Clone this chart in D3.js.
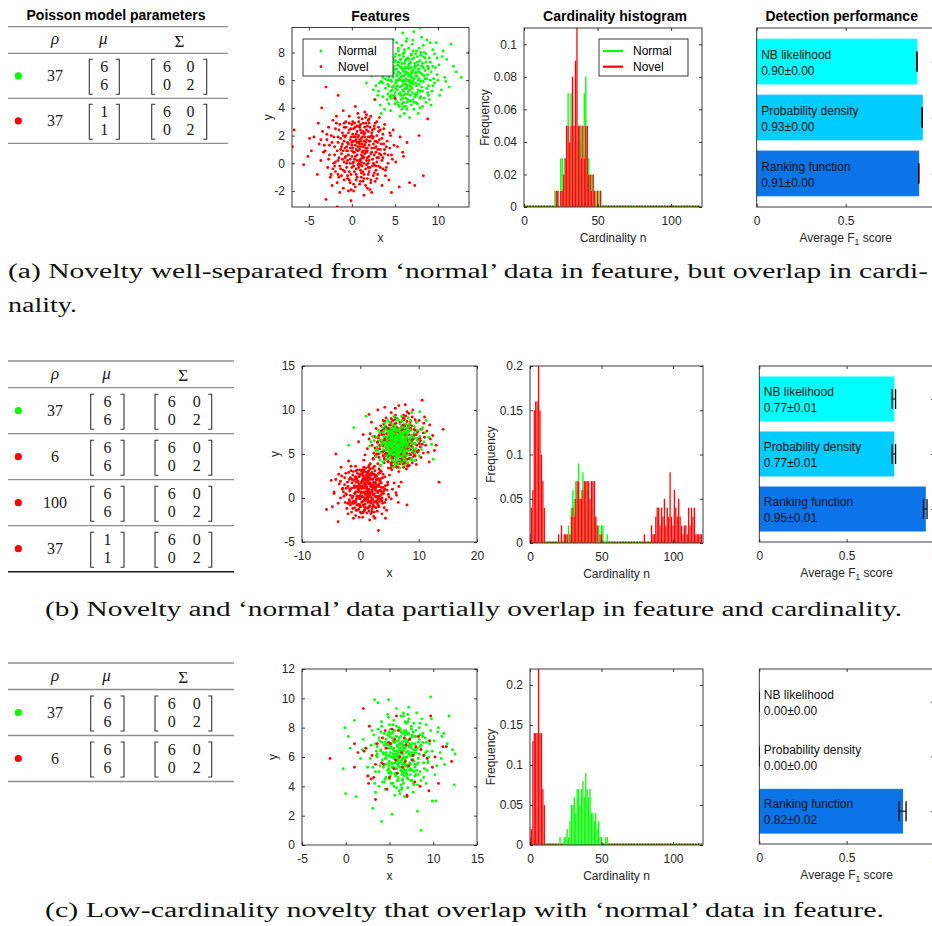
<!DOCTYPE html>
<html>
<head>
<meta charset="utf-8">
<script src="https://cdn.jsdelivr.net/npm/d3@7"></script>
<style>
  html, body { margin: 0; padding: 0; background: #fff; }
  svg { display: block; }
</style>
</head>
<body>
<svg id="fig" width="932" height="926"></svg>
<script>
// ---------------------------------------------------------------------------
// Poisson model parameters (rho = Poisson rate, mu = Gaussian mean, Sigma = covariance)
// ---------------------------------------------------------------------------
const classA = ["Normal", "Novel"];
const rhoA = [37, 37];
const muA = [[6, 6], [1, 1]];

const classB = ["Normal", "Novel", "Novel", "Novel"];
const rhoB = [37, 6, 100, 37];
const muB = [[6, 6], [6, 6], [6, 6], [1, 1]];

const classC = ["Normal", "Novel"];
const rhoC = [37, 6];
const muC = [[6, 6], [6, 6]];

const sigmaAll = [[6, 0], [0, 2]];

// ---------------------------------------------------------------------------
// Feature samples, flat lists of x,y pairs
// ---------------------------------------------------------------------------
const featA_normal = [
6.2,6.4, 5.1,5.8, 7.3,6.9, 4.6,7.2, 8.1,5.5, 6.8,4.9, 3.9,6.1, 5.5,7.8, 7.9,7.4, 6.0,5.2,
9.2,6.6, 4.2,5.0, 6.6,8.3, 5.8,6.9, 7.1,5.9, 3.2,7.0, 8.6,7.9, 5.3,4.4, 6.9,6.2, 10.1,7.1,
4.9,6.5, 7.6,4.3, 2.8,5.6, 6.3,7.5, 8.8,5.1, 5.6,5.5, 7.0,8.6, 4.4,8.1, 9.6,5.8, 6.1,3.6,
3.6,4.8, 7.8,6.1, 5.0,7.3, 6.7,5.6, 8.3,8.5, 4.1,6.8, 9.9,7.6, 5.9,4.7, 7.4,7.0, 2.3,6.3,
6.5,6.0, 8.0,4.8, 5.2,8.7, 10.8,6.2, 4.7,5.3, 7.2,3.9, 6.4,9.0, 3.4,5.9, 8.9,6.8, 5.7,6.2,
11.5,8.6, 6.0,7.7, 4.3,4.3, 7.7,5.3, 9.4,8.2, 5.4,6.6, 6.9,4.2, 3.0,7.6, 8.4,6.3, 6.2,5.0,
12.1,6.6, 5.0,5.1, 7.5,8.1, 4.0,7.5, 9.0,4.6, 6.6,6.8, 3.8,3.9, 8.2,7.2, 5.6,3.4, 7.0,6.5,
13.6,8.0, 4.5,6.0, 6.8,7.3, 10.4,5.3, 5.3,7.1, 7.9,4.0, 2.6,4.6, 6.3,8.8, 9.7,6.9, 5.8,5.6,
1.7,5.8, 7.3,5.0, 4.8,8.9, 8.7,8.9, 6.1,6.6, 3.5,6.5, 11.0,7.5, 5.5,4.1, 7.6,7.7, 4.2,5.7,
9.3,5.2, 6.7,3.3, 3.1,5.2, 8.5,7.6, 5.9,9.4, 7.1,4.6, 4.6,4.7, 10.6,8.1, 6.4,5.4, 2.0,7.1,
5.2,6.0, 7.4,6.3, 8.1,9.1, 6.0,4.4, 4.4,7.7, 9.1,7.3, 5.7,7.5, 7.8,5.7, 3.7,7.9, 6.5,4.6,
10.2,4.9, 5.1,4.6, 6.9,7.8, 8.6,4.4, 4.9,5.6, 7.2,9.5, 3.3,4.2, 6.2,6.9, 9.5,6.1, 5.4,8.3,
7.7,3.6, 4.0,6.4, 8.3,5.9, 6.6,7.1, 2.9,6.8, 5.8,3.9, 11.8,7.0, 7.0,5.4, 4.7,6.9, 8.8,7.0,
6.3,4.1, 5.6,6.0, 9.8,8.7, 3.9,5.4, 7.5,6.6, 6.1,8.0, 10.9,5.9, 4.5,3.8, 8.0,6.5, 5.0,6.8,
7.3,7.2, 2.5,5.3, 6.8,5.8, 9.2,4.2, 5.3,5.3, 4.1,8.4, 8.4,8.0, 6.5,7.6, 7.9,4.7, 3.6,6.2,
12.7,6.2, 5.7,4.9, 6.0,6.3, 8.9,5.6, 4.8,7.5, 7.1,8.9, 3.4,3.6, 6.7,6.0, 9.9,6.4, 5.5,7.0,
7.6,5.1, 4.3,6.2, 8.2,4.1, 6.3,5.7, 1.9,6.5, 5.9,6.7, 10.5,7.7, 7.4,4.4, 4.6,5.9, 6.9,6.9,
8.5,6.7, 5.1,7.9, 6.4,3.9, 3.8,7.3, 7.8,8.3, 9.4,5.6, 5.4,4.2, 6.6,5.2, 4.9,4.9, 8.0,7.8,
11.3,5.5, 6.1,7.2, 7.2,6.1, 3.2,5.8, 5.8,8.5, 8.7,6.1, 4.4,4.8, 6.8,4.5, 9.6,7.9, 5.2,6.3,
7.0,7.5, 7.9,9.8, 0.7,6.9, 6.2,5.9, 4.7,6.4, 8.3,6.9, 5.6,5.1, 7.4,5.8, 9.1,8.7, 3.0,4.9,
6.5,6.5, 5.3,6.0, 7.7,6.8, 4.2,7.0, 8.9,4.9, 6.0,5.7, 6.9,6.6, 5.0,4.3, 7.5,4.9, 10.0,6.0,
6.4,6.9, 5.3,6.4, 7.5,5.6, 4.9,7.0, 8.2,6.4, 6.0,4.9, 5.6,7.5, 7.1,6.7, 6.7,5.3, 4.4,6.5,
8.6,7.3, 5.9,5.9, 6.9,7.9, 5.1,5.4, 7.8,6.8, 6.3,6.1, 4.6,4.9, 7.3,4.8, 5.4,8.1, 8.0,5.9,
6.6,6.3, 3.9,7.1, 7.0,5.1, 5.8,7.2, 8.4,4.7, 6.1,5.7, 4.8,6.2, 7.6,7.3, 6.8,6.9, 5.5,5.0,
9.1,6.0, 6.2,7.4, 4.3,5.6, 7.2,7.6, 5.7,4.6, 8.8,6.4, 6.5,5.0, 5.0,7.7, 7.4,6.5, 6.0,6.8,
3.6,5.8, 8.1,7.0, 5.2,6.8, 6.7,4.5, 7.9,5.2, 4.7,7.6, 6.3,6.6, 9.4,7.0, 5.9,5.3, 7.1,8.1,
6.9,5.8, 4.1,4.6, 7.7,6.0, 5.5,6.1, 8.3,7.7, 6.4,4.4, 5.1,7.4, 7.3,7.0, 6.0,6.0, 4.5,5.2,
8.7,5.4, 6.6,7.5, 5.8,4.3, 7.5,5.0, 4.9,6.7, 6.2,5.4, 8.0,8.0, 5.3,5.6, 6.8,6.4, 7.2,4.4,
3.4,6.9, 6.1,8.2, 7.8,6.6, 5.6,6.5, 8.5,6.1, 6.4,5.6, 4.6,7.9, 7.0,6.2, 5.7,6.9, 9.0,7.6,
6.7,7.2, 5.0,4.8, 7.4,7.9, 6.3,4.7, 4.2,6.0, 8.2,5.2, 5.4,7.3, 6.9,5.5, 7.6,6.3, 5.9,7.9,
3.8,6.6, 7.1,5.7, 6.5,6.9, 5.2,5.9, 8.9,6.9, 6.0,4.1, 4.7,5.5, 7.7,7.1, 6.6,5.9, 5.8,6.3
];

const featA_novel = [
1.2,1.4, 0.3,0.8, 2.1,1.9, -0.8,1.1, 1.7,0.2, 0.6,2.3, -1.5,0.4, 2.8,1.2, 1.0,-0.5, -0.2,1.7,
3.4,0.6, 0.9,1.0, -2.3,1.5, 1.5,2.6, 2.4,-0.2, -0.6,-0.3, 0.2,0.1, 4.1,1.6, 1.8,1.1, -1.1,2.2,
0.5,-1.2, 2.6,2.5, -3.1,0.9, 1.3,0.5, 3.0,-0.8, -0.4,0.6, 1.9,3.1, 0.0,2.8, -1.9,-0.6, 2.2,0.7,
4.7,0.3, -0.9,1.6, 1.1,1.8, 3.6,2.1, 0.7,-0.1, -2.7,2.6, 1.6,-1.6, 2.9,0.1, -1.3,1.0, 0.4,1.3,
5.3,1.2, 1.4,2.1, -0.1,-0.8, 2.0,-0.6, -3.8,1.4, 0.8,3.3, 3.2,1.7, -1.7,-1.4, 1.0,0.3, 2.5,1.4,
-0.3,2.4, 4.0,-0.3, 0.1,1.1, 1.6,1.5, -2.1,0.0, 3.8,2.8, 0.6,0.6, -1.0,-1.8, 2.3,2.2, 1.2,-0.2,
-4.4,1.9, 0.9,2.7, 2.7,-1.3, -0.5,0.2, 1.8,0.9, 5.9,0.8, -1.6,1.9, 0.2,-2.0, 3.1,0.4, 1.5,3.7,
-2.8,-0.3, 0.4,1.9, 2.0,1.6, -0.7,3.0, 4.4,1.1, 1.1,-1.0, -1.2,0.7, 2.6,-0.1, 0.0,0.5, -3.4,2.3,
1.7,2.4, 3.5,-1.6, -0.2,-1.4, 0.8,0.0, 2.2,3.4, -2.0,1.2, 1.3,1.2, 4.8,2.4, -0.8,-0.6, 0.5,2.1,
6.4,1.5, 1.9,0.0, -1.4,2.8, 2.9,2.0, 0.3,-0.6, -5.1,0.5, 1.0,1.6, 3.3,1.0, -0.4,1.4, 2.1,-1.9,
-2.5,-1.0, 0.7,0.9, 1.6,-0.4, -1.8,3.4, 4.2,0.0, 0.1,3.0, 2.4,0.3, -0.9,0.1, 1.4,-2.3, 3.7,1.4,
-6.9,1.2, -6.7,2.4, -3.0,5.5, -1.6,4.9, -1.7,-3.15, -0.1,-2.7, -3.0,-2.6, 5.0,4.7, 8.8,3.2, 7.8,2.0,
8.3,-0.9, 7.3,-1.6, 4.6,-2.1, 5.5,-1.7, 6.7,-1.4, -5.6,-0.1, -4.9,1.8, -3.5,4.0, 2.7,4.6, 0.4,4.1,
1.1,2.2, -0.6,1.2, 2.8,0.8, 0.2,2.5, -1.3,-0.4, 3.9,-0.9, 1.5,0.7, -2.4,2.0, 0.9,-1.5, 2.0,2.9,
-0.2,0.0, 4.5,2.0, 1.2,3.2, -1.5,-1.0, 2.5,-0.9, 0.6,1.5, -3.6,0.2, 3.3,2.4, -0.7,2.0, 1.8,-1.1,
5.1,0.1, 0.0,-0.3, 1.4,0.4, -2.2,3.1, 2.3,1.1, -1.0,0.9, 3.6,-0.4, 0.8,2.0, -4.0,-0.8, 1.7,1.7,
2.9,3.0, -0.4,-2.0, 1.0,1.2, -1.9,2.5, 4.0,1.2, 0.3,0.3, 2.1,-0.3, -3.2,1.3, 1.3,2.9, -0.8,0.4,
3.0,1.5, 0.5,-0.8, -1.1,1.4, 2.4,1.8, 6.0,0.5, 1.6,0.9, -2.6,0.6, 0.1,1.6, 3.5,0.2, -0.5,-1.1,
1.9,2.3, -4.7,0.9, 2.7,1.6, 0.7,3.6, -1.4,-2.1, 1.1,0.1, 4.3,-1.2, -0.3,2.9, 2.2,-1.4, 0.9,1.4,
-2.9,1.7, 1.4,-0.8, 3.8,0.7, -0.1,1.9, 2.6,2.7, -1.2,-0.9, 0.6,0.2, 5.6,1.9, -3.9,2.9, 1.2,0.8,
0.2,-1.5, 2.0,0.5, -0.9,2.6, 3.1,-0.2, 1.5,1.9, -1.6,0.2, 0.4,2.6, 2.3,-2.1, -2.3,-1.6, 1.0,2.4,
3.2,3.3, -0.6,0.9, 1.7,-0.1, -1.0,3.8, 2.8,-0.5, 0.0,1.3, -2.0,-0.2, 4.6,0.6, 1.3,-1.3, -0.3,3.4,
0.5,1.7, 1.8,0.4, -0.5,0.9, 2.6,1.1, 0.9,2.6, -1.6,1.5, 1.3,-0.6, 3.1,2.3, -0.2,0.3, 2.0,1.3,
0.2,-0.2, 1.6,2.9, -1.0,2.0, 2.9,0.4, 1.1,0.6, -2.0,0.6, 0.7,1.2, 3.8,1.0, 1.4,-1.1, -0.7,2.6,
2.3,2.0, 0.0,1.5, 1.9,-0.8, -1.4,-0.2, 0.8,3.0, 3.3,-0.3, -0.3,-0.6, 1.5,1.3, 2.7,2.9, -2.6,1.3,
0.4,0.5, 2.1,2.6, -0.9,-1.2, 1.2,1.9, 4.2,0.6, -1.8,2.9, 0.6,-1.0, 2.5,0.0, -0.5,1.5, 1.7,0.8,
3.5,1.8, 0.1,2.1, 1.0,-0.1, -2.2,-0.4, 2.2,-1.2, 0.8,1.5, -1.1,0.3, 3.0,1.0, 1.6,3.3, -0.1,-1.9,
1.9,1.9, -3.3,0.8, 0.3,1.6, 2.6,-0.7, 1.3,0.9, -0.8,1.9, 4.4,2.2, 0.5,-0.4, -1.5,2.4, 2.0,0.2,
1.0,2.8, -2.4,-0.8, 3.2,0.7, 0.2,0.8, 1.8,-1.8, -0.4,2.2, 2.8,1.6, -1.2,1.2, 0.9,0.2, 3.9,-0.5,
-0.6,0.0, 1.4,1.6, 2.4,2.4, -1.9,0.1, 0.6,2.7, 1.9,-0.3, -2.9,2.1, 0.0,0.9, 3.4,1.4, 1.1,-0.7,
-0.9,2.9, 2.3,0.8, 0.4,-1.7, 1.5,2.2, -1.6,-0.8, 2.9,-1.1, 0.7,1.9, -0.2,1.1, 1.7,3.5, 4.9,1.3,
-0.5,-0.9, 2.1,1.6, 1.2,0.4, -2.7,0.3, 0.3,2.9, 3.6,0.4, -1.3,1.8, 1.0,-1.3, 2.5,1.9, 0.1,0.0,
1.8,2.7, -0.7,0.5, 2.8,-0.2, 0.5,1.0, -1.0,-0.5, 3.1,2.6, 1.4,0.0, -2.1,1.9, 0.8,-0.3, 2.0,3.2,
-0.1,2.5, 1.6,1.1, -3.6,1.7, 2.6,0.6, 0.9,1.7, -0.3,-1.2, 3.7,2.5, 1.3,2.3, -1.7,0.9, 0.2,1.9
];

const featB_normal = [
6.1,6.3, 5.4,7.1, 7.2,5.6, 4.8,6.0, 8.0,6.9, 6.6,4.8, 3.7,6.6, 5.9,8.0, 7.7,7.5, 6.3,5.1,
9.0,6.2, 4.4,5.4, 6.8,8.4, 5.6,6.7, 7.4,6.0, 3.3,7.4, 8.7,7.7, 5.1,4.6, 7.0,6.5, 10.2,7.0,
4.6,6.9, 7.5,4.5, 2.9,5.8, 6.2,7.6, 8.9,5.3, 5.7,5.7, 7.1,8.7, 4.2,8.2, 9.5,5.6, 6.0,3.8,
3.5,5.1, 7.9,6.3, 5.2,7.5, 6.9,5.5, 8.4,8.4, 4.0,7.0, 9.8,7.7, 5.8,4.9, 7.3,7.2, 2.4,6.5,
6.4,6.1, 8.2,4.9, 5.0,8.6, 10.9,6.4, 4.9,5.2, 7.0,4.0, 6.5,8.9, 3.6,6.0, 9.1,6.9, 5.5,6.3,
11.3,8.8, 6.1,7.8, 4.5,4.4, 7.8,5.4, 9.3,8.1, 5.3,6.8, 6.7,4.3, 3.1,7.7, 8.5,6.4, 6.0,5.0,
12.5,4.4, 5.0,5.5, 7.6,8.0, 4.1,7.6, 8.8,4.5, 6.6,6.9, 3.9,4.1, 8.1,7.3, 5.7,3.5, 7.1,6.6,
1.0,9.3, -1.1,8.0, -2.0,6.0, 8.8,9.7, 10.2,9.8, 4.7,6.2, 6.9,7.4, 10.5,5.5, 5.2,7.2, 7.8,4.2,
2.7,4.7, 6.2,8.9, 9.6,6.8, 5.9,5.5, 1.6,5.9, 7.4,5.1, 4.7,8.8, 8.6,8.8, 6.0,6.6, 3.4,6.6,
11.1,7.4, 5.6,4.2, 7.7,7.6, 4.3,5.8, 9.4,5.1, 6.8,3.4, 3.0,5.4, 8.3,7.6, 5.8,9.3, 7.2,4.7,
4.5,4.8, 10.7,8.0, 6.5,5.3, 2.1,7.0, 5.1,6.1, 7.3,6.4, 8.2,9.1, 6.1,4.5, 4.4,7.8, 9.2,7.4,
5.6,7.4, 7.9,5.8, 3.8,8.0, 6.4,4.7, 10.1,4.8, 5.0,4.5, 6.8,7.9, 8.7,4.3, 4.8,5.7, 7.1,9.3,
3.4,4.3, 6.3,7.0, 9.4,6.2, 5.5,8.4, 7.6,3.7, 4.1,6.3, 8.4,5.8, 6.6,7.2, 2.8,6.9, 5.9,4.0,
11.7,6.9, 7.0,5.3, 4.6,7.0, 8.8,7.1, 6.2,4.2, 5.6,6.1, 9.7,8.6, 3.9,5.5, 7.5,6.7, 6.0,8.2,
7.4,7.3, 2.6,5.4, 6.7,5.9, 9.3,4.3, 5.4,5.4, 4.2,8.5, 8.3,8.1, 6.5,7.7, 7.9,4.8, 3.7,6.3,
12.2,6.1, 5.8,5.0, 6.1,6.4, 9.0,5.7, 4.9,7.6, 7.2,8.8, 3.5,3.7, 6.8,6.1, 9.8,6.5, 5.4,7.0,
7.6,5.2, 4.4,6.3, 8.1,4.0, 6.3,5.8, 1.8,6.4, 6.0,6.8, 10.6,7.8, 7.5,4.3, 4.7,6.0, 7.0,7.0,
8.5,6.8, 5.2,8.0, 6.4,3.8, 3.9,7.4, 7.8,8.4, 9.5,5.5, 5.5,4.3, 6.6,5.1, 5.0,5.0, 8.0,7.9,
6.3,6.5, 5.6,5.9, 6.9,6.2, 6.0,7.0, 7.3,5.8, 5.2,6.4, 6.6,5.5, 5.9,6.2, 7.6,6.9, 4.9,5.9,
6.2,5.7, 6.8,7.1, 5.4,5.2, 7.0,6.8, 6.4,4.9, 5.7,7.3, 7.7,5.5, 4.6,6.6, 6.5,6.7, 6.1,5.3,
7.2,6.3, 5.5,6.8, 6.3,6.0, 8.1,6.1, 5.0,7.1, 6.7,5.8, 5.8,5.6, 7.4,7.5, 6.0,6.4, 5.3,5.8,
6.9,4.7, 4.4,6.1, 7.9,7.0, 6.2,7.3, 5.6,4.9, 7.1,6.0, 6.4,6.6, 5.1,6.7, 8.3,5.4, 6.7,7.6,
5.9,5.4, 7.5,6.4, 4.8,7.4, 6.1,6.0, 6.8,5.2, 5.4,6.0, 7.3,7.3, 6.5,5.6, 5.2,5.0, 7.8,6.6,
6.0,7.7, 6.6,6.1, 4.7,5.6, 7.0,5.5, 5.7,6.6, 8.0,7.5, 6.3,4.6, 5.5,7.6, 6.9,6.9, 7.6,5.2,
4.5,6.9, 6.2,6.2, 7.4,4.9, 5.8,7.8, 6.6,6.8, 5.0,5.3, 7.1,7.2, 6.4,5.4, 8.5,6.5, 5.9,6.9,
3.9,6.2, 6.7,6.5, 5.3,7.9, 7.7,6.2, 6.1,4.8, 5.6,5.5, 7.2,8.0, 6.5,7.0, 4.9,6.3, 7.0,6.6
];

const featB_novel = [
// cluster around (6,6)
5.9,6.2, 6.8,5.4, 4.7,6.8, 7.6,7.1, 5.2,5.2, 8.3,6.0, 3.9,5.9, 6.4,7.7, 7.1,4.6, 5.5,6.9,
9.1,7.0, 4.3,4.8, 6.1,8.5, 5.0,7.4, 7.9,5.7, 3.0,6.4, 8.8,8.2, 5.7,4.1, 6.9,6.6, 10.3,6.5,
4.5,7.3, 7.3,3.9, 2.5,5.7, 6.6,7.3, 9.2,5.0, 5.4,5.8, 7.5,8.9, 4.0,8.4, 10.0,5.4, 6.2,3.5,
3.2,4.6, 8.0,6.5, 4.9,7.8, 6.5,5.3, 8.6,8.7, 3.7,7.2, 10.4,7.8, 5.6,4.5, 7.7,7.4, 2.0,6.0,
6.7,6.3, 8.4,4.5, 5.3,9.0, 11.2,6.0, 4.6,5.0, 7.4,3.5, 6.0,9.4, 3.3,5.6, 9.3,7.2, 5.8,6.0,
11.9,8.3, 6.3,8.0, 4.1,4.0, 7.9,5.1, 9.6,8.6, 5.1,6.5, 6.8,3.9, 2.7,7.9, 8.7,6.6, 6.1,4.8,
12.4,7.1, 4.8,4.9, 7.6,8.3, 3.8,7.7, 9.5,4.3, 6.9,7.0, 3.5,3.7, 8.2,7.6, 5.4,3.2, 7.2,6.2,
13.5,1.8, 14.2,7.8, 10.6,11.1, 3.0,10.0, 7.7,10.6, 1.5,9.5, -0.3,6.4, 4.4,6.1, 6.5,7.5, 10.8,5.1,
5.0,7.0, 8.1,3.6, 2.2,4.5, 6.0,8.9, 9.9,6.7, 5.7,5.4, 1.2,5.6, 7.0,4.8, 4.4,9.1, 8.9,9.2,
6.3,6.7, 3.1,6.8, 11.4,7.6, 5.3,3.9, 7.8,7.9, 4.0,5.4, 9.7,5.3, 6.6,3.0, 2.8,5.0, 8.6,7.9,
6.0,10.2, 7.3,4.3, 4.2,4.4, 10.9,8.5, 6.6,5.6, 1.7,7.3, 5.2,5.7, 7.6,6.1, 8.3,9.6, 6.2,4.1,
4.1,7.9, 9.4,7.7, 5.9,7.6, 8.0,5.5, 3.5,8.2, 6.8,4.4, 10.4,4.6, 4.7,4.2, 7.1,8.1, 8.9,4.0,
4.6,5.6, 7.4,9.4, 3.0,3.9, 6.4,6.6, 9.7,6.0, 5.2,8.6, 7.9,3.3, 3.9,6.1, 8.6,5.5, 6.7,7.3,
2.6,6.9, 5.6,3.6, 12.0,6.7, 7.2,5.0, 4.3,6.8, 9.0,6.8, 6.2,3.8, 5.4,6.2, 10.1,8.8, 3.6,5.2,
7.7,6.9, 2.3,5.1, 6.9,5.6, 9.6,3.8, 5.5,5.0, 3.9,8.8, 8.5,8.4, 6.3,7.9, 8.1,4.4, 3.3,6.0,
13.0,6.0, 5.5,4.6, 6.2,6.0, 9.2,5.4, 4.6,7.9, 7.3,9.1, 3.2,3.3, 7.0,5.8, 10.1,6.2, 5.7,7.3,
7.8,4.8, 4.0,6.5, 8.4,3.7, 6.4,5.5, 1.5,6.7, 6.1,7.1, 10.8,7.4, 7.6,4.0, 4.5,6.3, 7.2,7.3,
8.8,6.5, 5.0,8.3, 6.5,3.5, 3.6,7.6, 8.0,8.7, 9.8,5.2, 5.3,4.0, 6.8,4.9, 4.8,4.7, 8.2,8.2,
11.6,5.2, 6.0,7.5, 7.4,5.9, 2.9,5.5, 5.6,8.8, 8.9,5.8, 4.1,4.5, 7.0,4.2, 9.9,7.6, 5.0,6.0,
7.1,7.8, 8.0,9.8, 0.5,7.2, 6.4,5.6, 4.4,6.6, 8.5,6.7, 5.8,4.8, 7.6,5.6, 9.4,8.9, 2.7,4.7,
6.7,6.8, 5.1,5.9, 7.9,6.6, 4.0,7.2, 9.1,4.7, 6.2,5.4, 7.1,6.4, 4.8,4.1, 7.7,4.5, 10.3,5.8,
5.3,9.7, 11.0,9.2, 12.7,5.4, 1.9,8.6, 0.8,4.9, 2.1,3.4, 11.8,4.1, 9.0,10.0, 4.2,10.3, 6.6,10.5,
6.3,6.8, 5.1,6.2, 7.7,5.8, 4.7,6.9, 8.4,6.2, 6.2,4.7, 5.4,7.7, 7.3,6.5, 6.9,5.1, 4.2,6.7,
8.8,7.1, 5.7,5.7, 7.1,7.7, 4.9,5.6, 8.0,6.6, 6.5,6.3, 4.4,5.1, 7.5,4.6, 5.2,8.3, 8.2,5.7,
6.8,6.1, 3.7,7.3, 7.2,4.9, 5.6,7.4, 8.6,4.9, 6.3,5.5, 4.6,6.4, 7.8,7.1, 7.0,7.1, 5.3,4.8,
9.3,6.2, 6.0,7.6, 4.1,5.4, 7.4,7.8, 5.5,4.4, 9.0,6.2, 6.7,4.8, 4.8,7.9, 7.6,6.3, 5.8,7.0,
3.4,6.0, 8.3,7.2, 5.0,7.0, 6.9,4.3, 8.1,5.0, 4.5,7.8, 6.1,6.8, 9.6,7.2, 5.7,5.1, 7.3,8.3,
7.1,5.6, 3.9,4.8, 7.9,5.8, 5.3,6.3, 8.5,7.9, 6.6,4.2, 4.9,7.6, 7.5,7.2, 5.8,5.8, 4.3,5.0,
8.9,5.2, 6.8,7.7, 5.6,4.1, 7.7,4.8, 4.7,6.5, 6.0,5.2, 8.2,8.2, 5.1,5.4, 7.0,6.2, 7.4,4.2,
3.2,7.1, 5.9,8.4, 8.0,6.4, 5.4,6.7, 8.7,5.9, 6.6,5.4, 4.4,8.1, 7.2,6.0, 5.5,7.1, 9.2,7.8,
6.9,7.4, 4.8,5.0, 7.6,8.1, 6.1,4.5, 4.0,6.2, 8.4,5.0, 5.2,7.5, 7.1,5.3, 7.8,6.1, 5.7,8.1,
3.6,6.4, 7.3,5.5, 6.7,7.1, 5.0,5.7, 9.1,6.7, 6.2,3.9, 4.5,5.7, 7.9,6.9, 6.4,5.7, 5.6,6.5,
10.2,6.8, 2.9,6.3, 6.3,9.0, 8.7,4.5, 3.8,5.2, 9.8,7.5, 5.3,3.7, 7.5,9.0, 2.4,7.0, 10.6,6.1,
4.2,8.7, 8.1,3.9, 6.8,8.6, 3.1,5.0, 9.4,4.8, 5.9,9.2, 11.0,6.9, 2.6,4.8, 7.8,9.3, 4.8,3.4,
// cluster around (1,1)
1.0,1.2, 0.1,0.6, 2.3,1.7, -0.6,1.3, 1.9,0.0, 0.4,2.5, -1.3,0.2, 3.0,1.4, 0.8,-0.7, -0.4,1.9,
3.6,0.4, 1.1,0.8, -2.1,1.3, 1.3,2.8, 2.6,-0.4, -0.8,-0.5, 0.0,0.3, 4.3,1.4, 2.0,0.9, -0.9,2.4,
0.7,-1.4, 2.4,2.7, -2.9,0.7, 1.5,0.3, 3.2,-1.0, -0.2,0.8, 1.7,3.3, 0.2,3.0, -1.7,-0.8, 2.4,0.5,
4.9,0.1, -0.7,1.8, 1.3,1.6, 3.8,2.3, 0.9,-0.3, -2.5,2.8, 1.8,-1.8, 3.1,-0.1, -1.1,1.2, 0.6,1.1,
5.5,1.0, 1.6,2.3, 0.1,-1.0, 2.2,-0.8, -3.6,1.6, 0.6,3.5, 3.4,1.9, -1.5,-1.6, 1.2,0.1, 2.7,1.2,
-0.1,2.6, 4.2,-0.5, 0.3,1.3, 1.8,1.3, -1.9,-0.2, 3.6,3.0, 0.8,0.4, -0.8,-2.0, 2.5,2.4, 1.4,-0.4,
-4.2,2.1, 1.1,2.9, 2.9,-1.5, -0.3,0.0, 2.0,0.7, 6.1,0.6, -1.4,2.1, 0.4,-2.2, 3.3,0.2, 1.7,3.9,
-2.6,-0.5, 0.6,2.1, 2.2,1.4, -0.5,3.2, 4.6,0.9, 1.3,-1.2, -1.0,0.5, 2.8,-0.3, 0.2,0.7, -3.2,2.5,
1.9,2.6, 3.7,-1.8, 0.0,-1.6, 1.0,-0.2, 2.4,3.6, -1.8,1.0, 1.5,1.0, 5.0,2.6, -0.6,-0.8, 0.7,2.3,
6.6,1.3, 2.1,-0.2, -1.2,3.0, 3.1,2.2, 0.5,-0.8, -5.8,-1.3, 1.2,1.8, 3.5,0.8, -0.2,1.6, 2.3,-2.1,
-2.3,-1.2, 0.9,0.7, 1.8,-0.6, -1.6,3.6, 4.4,-0.2, 0.3,3.2, 2.6,0.1, -0.7,-0.1, 1.6,-2.5, 3.9,1.2,
-4.2,5.0, 3.1,-3.7, -3.8,-2.7, -4.5,0.5, 8.0,-0.8, 6.5,-0.5, 4.3,-2.3, -5.0,2.0, -3.3,3.5, 2.2,4.4,
0.6,4.3, 5.2,3.4, -2.0,4.2, 7.0,1.8, -4.8,-1.0, 1.3,2.0, -0.4,1.0, 3.0,0.6, 0.4,2.7, -1.1,-0.6,
4.1,-1.1, 1.7,0.5, -2.2,1.8, 1.1,-1.7, 2.2,2.7, 0.0,-0.1, 4.7,1.8, 1.4,3.0, -1.3,-1.2, 2.7,-1.1,
0.8,1.7, -3.4,0.0, 3.5,2.2, -0.5,1.8, 2.0,-1.3, 5.3,-0.1, 0.2,-0.5, 1.6,0.2, -2.0,2.9, 2.5,0.9,
-0.8,0.7, 3.8,-0.6, 1.0,2.2, -3.8,-0.6, 1.9,1.5, 3.1,2.8, -0.2,-2.2, 1.2,1.0, -1.7,2.3, 4.2,1.0,
0.5,0.1, 2.3,-0.5, -3.0,1.1, 1.5,2.7, -0.6,0.2, 3.2,1.3, 0.7,-1.0, -0.9,1.2, 2.6,1.6, 6.2,0.3,
1.8,0.7, -2.4,0.4, 0.3,1.4, 3.7,0.0, -0.3,-1.3, 2.1,2.1, -4.5,0.7, 2.9,1.4, 0.9,3.4, -1.2,-2.3,
1.3,-0.1, 4.5,-1.4, -0.1,2.7, 2.4,-1.6, 1.1,1.2, -2.7,1.5, 1.6,-1.0, 4.0,0.5, 0.1,1.7, 2.8,2.5,
-1.0,-1.1, 0.8,0.0, 5.8,1.7, -3.7,2.7, 1.4,0.6, 0.4,-1.7, 2.2,0.3, -0.7,2.4, 3.3,-0.4, 1.7,1.7,
-1.4,0.0, 0.6,2.4, 2.5,-2.3, -2.1,-1.8, 1.2,2.2, 3.4,3.1, -0.4,0.7, 1.9,-0.3, -0.8,3.6, 3.0,-0.7,
0.2,1.1, -1.8,-0.4, 4.8,0.4, 1.5,-1.5, -0.1,3.2, 2.3,1.1, -0.6,-1.4, 1.0,2.6, 3.6,1.7, -2.8,0.2,
0.7,1.5, 1.6,0.6, -0.3,1.1, 2.4,1.3, 1.1,2.4, -1.4,1.7, 1.5,-0.4, 2.9,2.1, 0.0,0.1, 2.2,1.1,
0.4,-0.4, 1.4,3.1, -0.8,2.2, 3.1,0.2, 1.3,0.8, -1.8,0.8, 0.9,1.4, 3.6,1.2, 1.6,-0.9, -0.5,2.8,
2.1,2.2, 0.2,1.3, 2.1,-1.0, -1.2,-0.4, 0.6,3.2, 3.5,-0.1, -0.1,-0.8, 1.7,1.5, 2.5,3.1, -2.4,1.1,
0.6,0.7, 1.9,2.8, -0.7,-1.4, 1.4,1.7, 4.0,0.8, -1.6,3.1, 0.8,-1.2, 2.7,0.2, -0.3,1.3, 1.5,0.6,
3.3,2.0, 0.3,1.9, 1.2,0.1, -2.0,-0.6, 2.4,-1.0, 1.0,1.3, -0.9,0.5, 3.2,0.8, 1.4,3.5, 0.1,-1.7,
1.7,2.1, -3.1,1.0, 0.5,1.8, 2.8,-0.5, 1.5,0.7, -0.6,2.1, 4.2,2.4, 0.7,-0.2, -1.3,2.6, 2.2,0.4,
0.8,3.0, -2.2,-0.6, 3.4,0.9, 0.4,0.6, 2.0,-1.6, -0.2,2.4, 2.6,1.8, -1.0,1.4, 1.1,0.4, 3.7,-0.3,
-0.4,0.2, 1.2,1.8, 2.6,2.6, -1.7,0.3, 0.4,2.9, 2.1,-0.1, -2.7,2.3, 0.2,1.1, 3.2,1.6, 1.3,-0.5,
-0.7,3.1, 2.5,1.0, 0.6,-1.5, 1.3,2.4, -1.4,-0.6, 3.1,-0.9, 0.9,2.1, 0.0,1.3, 1.5,3.7, 4.7,1.5,
-0.3,-0.7, 2.3,1.8, 1.4,0.6, -2.5,0.5, 0.5,3.1, 3.8,0.6, -1.1,2.0, 1.2,-1.1, 2.7,2.1, 0.3,0.2,
2.0,2.9, -0.5,0.7, 3.0,0.0, 0.7,1.2, -0.8,-0.3, 3.3,2.8, 1.6,0.2, -1.9,2.1, 1.0,-0.1, 2.2,3.4,
0.1,2.7, 1.8,1.3, -3.4,1.9, 2.8,0.8, 1.1,1.9, -0.1,-1.0, 3.9,2.7, 1.5,2.5, -1.5,1.1, 0.4,2.1
];

const featC_normal = [
8.6,1.0, 4.1,1.6, 9.7,10.1, 3.3,9.9, -0.3,5.2, 12.4,4.1, 11.8,8.8, 0.0,3.5, 4.9,9.9, 3.7,9.7,
5.3,2.1, 8.2,2.3, 3.1,2.5, -0.1,8.0, 0.3,7.4, 0.5,6.6, 1.0,8.5, 1.2,3.3, 10.3,3.0, 9.9,3.0,
6.0,6.1, 5.2,6.9, 7.4,5.5, 4.6,6.3, 8.3,7.0, 6.7,4.7, 3.6,6.7, 5.8,8.1, 7.6,7.4, 6.4,5.0,
9.1,6.3, 4.3,5.3, 6.9,8.3, 5.5,6.6, 7.5,6.1, 3.2,7.5, 8.8,7.6, 5.0,4.5, 7.1,6.4, 10.1,7.1,
4.5,7.0, 7.6,4.4, 2.8,5.9, 6.3,7.7, 9.0,5.2, 5.6,5.6, 7.2,8.6, 4.1,8.1, 9.4,5.7, 6.1,3.7,
3.4,5.0, 7.8,6.2, 5.1,7.6, 6.8,5.4, 8.5,8.3, 3.9,7.1, 9.7,7.8, 5.7,4.8, 7.4,7.3, 2.3,6.6,
6.5,6.2, 8.3,4.8, 4.9,8.7, 10.8,6.3, 4.8,5.1, 7.1,3.9, 6.6,9.0, 3.5,6.1, 9.2,7.0, 5.4,6.2,
11.2,7.6, 6.2,7.9, 4.4,4.3, 7.9,5.3, 9.2,8.2, 5.2,6.7, 6.6,4.2, 3.0,7.8, 8.6,6.5, 5.9,4.9,
12.2,6.5, 4.9,5.4, 7.5,8.1, 4.0,7.7, 8.9,4.6, 6.7,6.8, 3.8,4.0, 8.0,7.4, 5.6,3.4, 7.2,6.7,
4.6,6.1, 6.8,7.5, 10.4,5.4, 5.3,7.3, 7.8,4.1, 2.6,4.7, 6.3,8.8, 9.6,6.9, 5.9,5.5, 1.7,5.9,
7.3,5.1, 4.8,8.9, 8.7,8.6, 6.1,6.5, 3.5,6.4, 11.0,7.4, 5.5,4.0, 7.7,7.7, 4.2,5.8, 9.3,5.1,
6.7,3.3, 3.1,5.3, 8.5,7.5, 5.8,9.3, 7.0,4.6, 4.6,4.6, 10.6,8.0, 6.4,5.3, 2.0,7.2, 5.2,6.0,
7.4,6.3, 8.1,9.0, 6.0,4.4, 4.4,7.6, 9.1,7.3, 5.7,7.4, 7.8,5.7, 3.7,7.9, 6.5,4.5, 10.2,4.8,
5.1,4.7, 6.9,7.8, 8.6,4.4, 4.9,5.6, 7.2,9.4, 3.3,4.2, 6.2,6.9, 9.5,6.0, 5.4,8.2, 7.7,3.6,
4.0,6.4, 8.3,5.9, 6.6,7.1, 2.9,6.8, 5.8,3.9, 11.6,6.9, 7.0,5.4, 4.7,6.9, 8.8,7.0, 6.3,4.1,
5.6,6.0, 9.8,8.6, 3.9,5.4, 7.5,6.6, 6.1,8.0, 10.9,5.9, 4.5,3.8, 8.0,6.5, 5.0,6.8, 7.3,7.2,
2.5,5.3, 6.8,5.8, 9.2,4.2, 5.3,5.3, 4.1,8.4, 8.4,8.0, 6.5,7.6, 7.9,4.7, 3.6,6.2, 12.5,6.2,
5.7,4.9, 6.0,6.3, 8.9,5.6, 4.8,7.5, 7.1,8.9, 3.4,3.6, 6.7,6.0, 9.9,6.4, 5.5,7.0, 7.6,5.1,
4.3,6.2, 8.2,4.1, 6.3,5.7, 1.9,6.5, 5.9,6.7, 10.5,7.7, 7.4,4.4, 4.6,5.9, 6.9,6.9, 8.5,6.7,
5.1,7.9, 6.4,3.9, 3.8,7.3, 7.8,8.3, 9.4,5.6, 5.4,4.2, 6.6,5.2, 4.9,4.9, 8.0,7.8, 11.3,5.5,
6.2,6.6, 5.5,5.9, 7.0,6.0, 6.6,6.4, 5.9,7.1, 7.3,6.8, 6.4,5.8, 5.1,6.3, 6.9,5.1, 7.7,6.3,
6.0,5.4, 5.6,7.0, 6.8,6.6, 7.5,5.8, 5.3,5.6, 6.1,7.3, 7.9,6.9, 4.8,6.6, 6.5,5.5, 7.1,7.1,
5.8,6.4, 6.9,4.9, 5.0,6.1, 7.6,6.9, 6.3,6.3, 5.4,7.7, 8.1,5.5, 6.7,7.8, 4.6,5.5, 7.4,4.8,
6.0,5.9, 5.7,5.2, 8.4,6.2, 6.4,6.9, 5.2,4.9, 7.0,7.6, 6.6,5.6, 4.4,6.8, 7.8,5.0, 5.9,6.0,
6.5,6.7, 5.2,6.0, 7.4,6.1, 5.8,7.4, 7.1,5.3, 4.7,6.8, 6.3,5.1, 6.9,7.2, 5.5,5.3, 8.0,6.3,
6.2,7.8, 5.0,5.7, 7.6,7.5, 6.6,4.9, 4.3,6.3, 7.2,6.2, 5.9,6.8, 8.3,5.6, 6.0,4.6, 5.4,7.1,
6.8,5.9, 7.9,7.4, 4.9,5.2, 6.4,7.0, 5.6,6.4, 7.0,4.8, 6.1,6.1, 8.6,6.8, 5.3,7.6, 6.7,5.6,
4.5,5.9, 7.3,6.9, 6.0,5.8, 5.7,4.7, 7.7,5.8, 6.3,7.4, 5.1,6.6, 8.1,5.1, 6.9,6.3, 5.8,5.2,
7.5,7.9, 4.0,6.5, 6.6,6.6, 7.1,4.5, 5.4,6.0, 6.2,5.3, 8.4,7.2, 5.0,7.4, 7.3,5.6, 6.5,5.9,
4.6,7.2, 7.8,6.5, 5.9,4.4, 6.8,7.7, 5.3,5.5, 7.4,5.2, 6.1,6.9, 9.0,6.1, 4.8,6.1, 6.4,4.8,
7.0,7.0, 5.6,7.8, 8.2,6.6, 6.7,5.1, 5.1,5.0, 7.6,6.1, 6.0,7.1, 4.4,5.5, 7.2,7.6, 5.8,5.7,
6.9,5.5, 5.4,6.5, 8.0,4.8, 6.3,6.4, 4.9,7.7, 7.4,6.7, 6.5,4.4, 5.7,6.2, 7.9,5.5, 6.1,5.6,
3.6,6.0, 8.8,7.4, 5.2,4.2, 7.1,8.4, 4.1,7.0, 9.3,6.4, 6.4,3.8, 5.5,8.5, 8.5,5.0, 3.8,5.0,
6.8,8.4, 4.5,4.5, 9.5,7.1, 6.2,3.5, 3.4,6.9, 7.7,4.2, 5.0,8.2, 8.9,5.6, 4.2,4.3, 6.6,8.8
];

const featC_novel = [
-1.8,5.9, 2.0,9.3, 5.8,8.8, 9.7,8.8, 12.1,5.7, 11.1,6.7, 9.5,3.7, 3.4,3.1, 7.0,3.3, 10.6,4.2,
2.7,8.1, 1.0,6.9, 1.0,5.3, 2.5,4.7, 2.6,4.2, 4.7,3.8, 4.5,7.8, 5.3,7.9, 4.9,7.0, 5.1,6.9,
3.0,6.1, 3.2,4.6, 2.9,4.5, 3.4,5.5, 4.1,5.6, 4.3,5.5, 5.7,5.8, 6.4,6.3, 6.2,6.0, 6.9,6.8,
7.3,7.2, 7.7,6.1, 8.0,6.7, 8.3,7.4, 8.6,6.5, 9.3,5.9, 9.9,5.3, 7.9,4.3, 7.6,5.8, 6.5,5.3,
5.5,5.2, 6.0,7.8, 6.7,7.3, 8.5,4.0, 10.2,6.0, 11.5,6.7, 2.3,6.6, 2.1,6.4, 4.6,6.6, 5.9,4.9,
6.8,5.7, 7.2,5.4, 5.0,4.6, 8.9,6.1, 3.6,6.9, 5.6,7.2, 7.0,3.4, 4.2,7.3, 9.6,7.1, 1.4,6.3
];

// ---------------------------------------------------------------------------
// Cardinality histograms, [n, relative frequency]
// ---------------------------------------------------------------------------
const cardA_normal = [[21,0.01],[23,0.01],[25,0.03],[26,0.03],[27,0.02],[28,0.03],[29,0.03],[30,0.07],[31,0.04],[32,0.07],[33,0.05],[34,0.03],[35,0.05],[36,0.04],[37,0.05],[38,0.04],[39,0.05],[40,0.03],[41,0.07],[42,0.08],[43,0.04],[44,0.03],[45,0.02],[46,0.02],[47,0.02],[48,0.01],[49,0.01],[51,0.01],[52,0.01]];
const cardA_novel = [[22,0.01],[23,0.01],[25,0.01],[26,0.01],[27,0.02],[28,0.03],[29,0.05],[30,0.05],[31,0.04],[32,0.05],[33,0.08],[34,0.05],[35,0.09],[36,0.11],[37,0.05],[38,0.05],[39,0.03],[40,0.05],[41,0.03],[42,0.05],[43,0.05],[44,0.02],[45,0.02],[46,0.01],[47,0.02],[48,0.01],[50,0.01],[52,0.01]];

const cardB_normal = [[22,0.01],[25,0.01],[27,0.02],[28,0.01],[29,0.04],[30,0.06],[31,0.05],[32,0.07],[33,0.06],[34,0.09],[35,0.05],[36,0.06],[37,0.08],[38,0.05],[39,0.04],[40,0.06],[41,0.05],[42,0.04],[43,0.03],[44,0.04],[45,0.02],[46,0.03],[47,0.02],[48,0.02],[50,0.02],[51,0.02],[54,0.01]];
const cardB_novel = [[0,0.01],[1,0.04],[2,0.06],[3,0.15],[4,0.16],[5,0.16],[6,0.2],[7,0.15],[8,0.1],[9,0.07],[10,0.04],
  [20,0.01],[22,0.02],[24,0.01],[25,0.01],[26,0.01],[28,0.01],[29,0.03],[30,0.04],[31,0.03],[32,0.05],[33,0.07],[34,0.07],[35,0.05],[36,0.05],[37,0.06],[38,0.07],[39,0.07],[40,0.07],[41,0.07],[42,0.05],[43,0.07],[44,0.07],[45,0.07],[46,0.03],[47,0.02],[49,0.01],[50,0.01],
  [80,0.01],[85,0.02],[86,0.01],[87,0.01],[88,0.03],[89,0.04],[90,0.04],[91,0.02],[92,0.04],[93,0.03],[94,0.05],[95,0.02],[96,0.04],[97,0.03],[98,0.08],[99,0.03],[100,0.02],[101,0.06],[102,0.04],[103,0.03],[104,0.05],[105,0.03],[106,0.02],[107,0.01],[108,0.02],[109,0.02],[110,0.01],[111,0.04],[112,0.02],[113,0.04],[114,0.03],[115,0.04],[116,0.01],[117,0.01],[118,0.01],[119,0.01],[120,0.01]];

const cardC_normal = [[21,0.01],[24,0.01],[25,0.01],[26,0.02],[27,0.01],[28,0.03],[29,0.05],[30,0.05],[31,0.06],[32,0.04],[33,0.07],[34,0.07],[35,0.05],[36,0.07],[37,0.08],[38,0.06],[39,0.09],[40,0.07],[41,0.06],[42,0.07],[43,0.04],[44,0.04],[45,0.03],[46,0.04],[47,0.02],[48,0.03],[49,0.01],[50,0.01],[53,0.01],[54,0.01]];
const cardC_novel = [[0,0.01],[1,0.02],[2,0.13],[3,0.14],[4,0.14],[5,0.14],[6,0.22],[7,0.14],[8,0.14],[9,0.07],[10,0.05]];

const cardMax = 120;

// ---------------------------------------------------------------------------
// Detection performance: average F1 score and its spread
// ---------------------------------------------------------------------------
const methods = ["NB likelihood", "Probability density", "Ranking function"];
const f1A = [0.90, 0.93, 0.91], f1A_sd = [0.00, 0.00, 0.00];
const f1B = [0.77, 0.77, 0.95], f1B_sd = [0.01, 0.01, 0.01];
const f1C = [0.00, 0.00, 0.82], f1C_sd = [0.00, 0.00, 0.02];

// Axis limits and ticks
const featLimA = {x: [-6.95, 13.6], y: [-3.15, 9.8]}, featTickA = {x: [-5, 0, 5, 10], y: [-2, 0, 2, 4, 6, 8]};
const featLimB = {x: [-10, 20], y: [-5, 15]},       featTickB = {x: [-10, 0, 10, 20], y: [-5, 0, 5, 10, 15]};
const featLimC = {x: [-5, 15], y: [0, 12]},         featTickC = {x: [-5, 0, 5, 10, 15], y: [0, 2, 4, 6, 8, 10, 12]};
const cardLimX = [0, 121], cardTickX = [0, 50, 100];
const cardLimA = [0, 0.11], cardTickA = [0, 0.02, 0.04, 0.06, 0.08, 0.1];
const cardLimB = [0, 0.2],  cardTickB = [0, 0.05, 0.1, 0.15, 0.2];
const cardLimC = [0, 0.22], cardTickC = [0, 0.05, 0.1, 0.15, 0.2];
const f1Lim = [0, 1], f1Tick = [0, 0.5, 1];

// ---------------------------------------------------------------------------
// Drawing
// ---------------------------------------------------------------------------
const svg = d3.select("#fig");
const SANS = "'Liberation Sans', Arial, Helvetica, sans-serif";
const SERIF = "'Liberation Serif', 'Times New Roman', Times, serif";
const INK = "#262626";
const classColor = d3.scaleOrdinal().domain(["Normal", "Novel"]).range(["#00ff00", "#ff0000"]);
const methodColor = d3.scaleOrdinal().domain(methods).range(["#00ffff", "#00ccff", "#0b74e8"]);

function toPoints(flat) {
  const out = [];
  for (let i = 0; i + 1 < flat.length; i += 2) out.push([flat[i], flat[i + 1]]);
  return out;
}

let clipCount = 0;
function clipped(g, l, t, w, h) {
  const id = "clip" + (clipCount++);
  svg.append("clipPath").attr("id", id).append("rect")
    .attr("x", l).attr("y", t).attr("width", w).attr("height", h);
  return g.append("g").attr("clip-path", `url(#${id})`);
}

// MATLAB-style box: inward ticks on all four sides, labels bottom and left
function axesBox(g, x, y, xt, yt, opt = {}) {
  const [l, r] = x.range();
  const [b, t] = y.range();
  const fmt = d => String(d);
  const style = s => s.attr("font-family", SANS).attr("font-size", 12);
  style(g.append("g").attr("transform", `translate(0,${b})`)
    .call(d3.axisBottom(x).tickValues(xt).tickSize(-3).tickPadding(9).tickFormat(fmt)));
  style(g.append("g").attr("transform", `translate(0,${t})`)
    .call(d3.axisTop(x).tickValues(xt).tickSize(-3).tickFormat("")));
  if (!opt.noLeftTicks) {
    style(g.append("g").attr("transform", `translate(${l},0)`)
      .call(d3.axisLeft(y).tickValues(yt).tickSize(-3).tickPadding(7).tickFormat(opt.noYLabels ? "" : fmt)));
  }
  style(g.append("g").attr("transform", `translate(${r},0)`)
    .call(d3.axisRight(y).tickValues(yt).tickSize(-3).tickFormat("")));
  g.selectAll(".domain").remove();
  g.selectAll(".tick line").attr("stroke", INK).attr("stroke-width", 0.9);
  g.selectAll(".tick text").attr("fill", INK);
  g.append("rect").attr("x", l).attr("y", t).attr("width", r - l).attr("height", b - t)
    .attr("fill", "none").attr("stroke", INK).attr("stroke-width", 0.9);
}

function title(g, x, y, txt) {
  g.append("text").attr("x", x).attr("y", y).attr("text-anchor", "middle")
    .attr("font-family", SANS).attr("font-size", 14).attr("font-weight", "bold")
    .attr("fill", "#000").text(txt);
}
function label(g, x, y, txt, rotate) {
  const t = g.append("text").attr("text-anchor", "middle")
    .attr("font-family", SANS).attr("font-size", 12).attr("fill", INK).text(txt);
  if (rotate) t.attr("transform", `translate(${x},${y}) rotate(-90)`);
  else t.attr("x", x).attr("y", y);
  return t;
}

// ---- parameter table ----
function drawTable(cfg, rho, mu, cls) {
  const g = svg.append("g");
  const rule = (y, dark) => g.append("line").attr("x1", cfg.l).attr("x2", cfg.r).attr("y1", y).attr("y2", y)
    .attr("stroke", dark ? "#1a1a1a" : "#8f8f8f").attr("stroke-width", dark ? 1.5 : 1.3);
  const txt = (x, y, s, italic, size) => g.append("text").attr("x", x).attr("y", y)
    .attr("text-anchor", "middle").attr("font-family", SERIF).attr("font-size", size || 16)
    .attr("font-style", italic ? "italic" : "normal").attr("fill", "#1a1a1a").text(s);
  const bracket = (x, side, cy) => {
    const s = side === "l" ? 3.5 : -3.5;
    g.append("path").attr("d", `M${x + s},${cy - 16.5} H${x} V${cy + 18.5} H${x + s}`)
      .attr("fill", "none").attr("stroke", "#333").attr("stroke-width", 1.1);
  };
  rule(cfg.top);
  txt(cfg.rhoX, cfg.top + 17.5, "\u03C1", true, 17);
  txt(cfg.muX - 1, cfg.top + 17.5, "\u03BC", true, 17);
  txt(cfg.sigH, cfg.top + 20, "\u03A3", false, 17);
  rule(cfg.head);
  rho.forEach((r, i) => {
    const y0 = cfg.head + i * cfg.rowH, cy = y0 + cfg.rowH / 2;
    g.append("circle").attr("cx", 18.3).attr("cy", cy).attr("r", 3.6).attr("fill", classColor(cls[i]));
    txt(cfg.rhoX, cy + 5.3, String(r));
    txt(cfg.muX, cy - 3.7, String(mu[i][0]));
    txt(cfg.muX, cy + 14.5, String(mu[i][1]));
    txt(cfg.s1X, cy - 3.7, String(sigmaAll[0][0]));
    txt(cfg.s2X, cy - 3.7, String(sigmaAll[0][1]));
    txt(cfg.s1X, cy + 14.5, String(sigmaAll[1][0]));
    txt(cfg.s2X, cy + 14.5, String(sigmaAll[1][1]));
    bracket(cfg.muL, "l", cy); bracket(cfg.muR, "r", cy);
    bracket(cfg.sL, "l", cy); bracket(cfg.sR, "r", cy);
    rule(y0 + cfg.rowH, i === rho.length - 1 && cfg.darkBottom);
  });
  return g;
}

// ---- feature scatter ----
function drawScatter(box, lim, ticks, layers, opt) {
  const g = svg.append("g");
  const x = d3.scaleLinear().domain(lim.x).range([box.l, box.r]);
  const y = d3.scaleLinear().domain(lim.y).range([box.b, box.t]);
  const pg = clipped(g, box.l, box.t, box.r - box.l, box.b - box.t);
  layers.forEach(layer => {
    pg.append("g").selectAll("circle").data(toPoints(layer.pts)).join("circle")
      .attr("cx", d => x(d[0])).attr("cy", d => y(d[1])).attr("r", 1.45)
      .attr("fill", classColor(layer.cls));
  });
  axesBox(g, x, y, ticks.x, ticks.y);
  label(g, (box.l + box.r) / 2, box.b + 34.5, "x");
  label(g, box.l - opt.yLabOff + 3.5, (box.t + box.b) / 2, "y", true);
  if (opt.title) title(g, (box.l + box.r) / 2, box.t - 6.5, "Features");
  if (opt.legend) {
    const lg = g.append("g");
    lg.append("rect").attr("x", box.l + 11).attr("y", box.t + 11.5).attr("width", 90).attr("height", 37)
      .attr("fill", "#fff").attr("stroke", INK).attr("stroke-width", 0.9);
    ["Normal", "Novel"].forEach((c, i) => {
      const cy = box.t + 23.5 + i * 15.7;
      lg.append("circle").attr("cx", box.l + 29).attr("cy", cy).attr("r", 1.4).attr("fill", classColor(c));
      lg.append("text").attr("x", box.l + 46).attr("y", cy + 4.3).attr("font-family", SANS)
        .attr("font-size", 12).attr("fill", "#000").text(c);
    });
  }
  return g;
}

// ---- cardinality histogram ----
function drawHist(box, yLim, yTicks, series, opt) {
  const g = svg.append("g");
  const x = d3.scaleLinear().domain(cardLimX).range([box.l, box.r]);
  const y = d3.scaleLinear().domain(yLim).range([box.b, box.t]);
  const pg = clipped(g, box.l, box.t - 1, box.r - box.l, box.b - box.t + 1);
  // zero-height bars along the baseline
  pg.append("line").attr("x1", x(0)).attr("x2", x(cardMax)).attr("y1", y(0) - 0.6).attr("y2", y(0) - 0.6)
    .attr("stroke", classColor("Normal")).attr("stroke-width", 1.6);
  pg.append("line").attr("x1", x(0)).attr("x2", x(cardMax)).attr("y1", y(0) - 0.6).attr("y2", y(0) - 0.6)
    .attr("stroke", classColor("Novel")).attr("stroke-width", 1.6).attr("stroke-dasharray", "1.4,1.4");
  series.forEach(s => {
    pg.append("g").selectAll("rect").data(s.data).join("rect")
      .attr("x", d => x(d[0] - 0.5)).attr("width", d => x(d[0] + 0.5) - x(d[0] - 0.5))
      .attr("y", d => y(d[1])).attr("height", d => y(0) - y(d[1]))
      .attr("fill", classColor(s.cls))
      .attr("stroke", "rgba(255,255,255,0.35)").attr("stroke-width", 0.35);
  });
  axesBox(g, x, y, cardTickX, yTicks);
  label(g, (box.l + box.r) / 2, box.b + 34.5, "Cardinality n");
  label(g, box.l - 35.5, (box.t + box.b) / 2, "Frequency", true);
  if (opt.title) title(g, (box.l + box.r) / 2 + 2, box.t - 7, "Cardinality histogram");
  if (opt.legend) {
    const lg = g.append("g");
    lg.append("rect").attr("x", box.l + 75).attr("y", box.t + 11).attr("width", 89).attr("height", 37)
      .attr("fill", "#fff").attr("stroke", INK).attr("stroke-width", 0.9);
    ["Normal", "Novel"].forEach((c, i) => {
      const cy = box.t + 23 + i * 15.7;
      lg.append("line").attr("x1", box.l + 79).attr("x2", box.l + 99).attr("y1", cy).attr("y2", cy)
        .attr("stroke", classColor(c)).attr("stroke-width", 2.2);
      lg.append("text").attr("x", box.l + 109).attr("y", cy + 4.3).attr("font-family", SANS)
        .attr("font-size", 12).attr("fill", "#000").text(c);
    });
  }
  return g;
}

// ---- detection performance bars ----
function drawBars(box, mean, sd, opt) {
  const g = svg.append("g");
  const x = d3.scaleLinear().domain(f1Lim).range([box.l, box.r]);
  // categories run top to bottom
  const y = d3.scaleLinear().domain([0.4, 3.6]).range([box.t, box.b]);
  const pg = clipped(g, box.l, box.t, box.r - box.l, box.b - box.t);
  methods.forEach((m, i) => {
    const c = i + 1, cy = y(c);
    pg.append("rect").attr("x", x(0)).attr("width", x(mean[i]) - x(0))
      .attr("y", y(c - 0.4)).attr("height", y(c + 0.4) - y(c - 0.4))
      .attr("fill", methodColor(m)).attr("stroke", methodColor(m)).attr("stroke-width", 1);
    const lo = x(mean[i] - sd[i]), hi = x(mean[i] + sd[i]);
    pg.append("line").attr("x1", lo).attr("x2", hi).attr("y1", cy).attr("y2", cy)
      .attr("stroke", "#000").attr("stroke-width", 1.1);
    [lo, hi].forEach(px => pg.append("line").attr("x1", px).attr("x2", px)
      .attr("y1", cy - 10).attr("y2", cy + 10).attr("stroke", "#000").attr("stroke-width", 1.3));
    const tg = g.append("g").attr("font-family", SANS).attr("font-size", 12).attr("fill", "#111");
    tg.append("text").attr("x", x(0) + 4.5).attr("y", cy - 2.7).text(m);
    tg.append("text").attr("x", x(0) + 4.5).attr("y", cy + 13.3)
      .text(`${mean[i].toFixed(2)}\u00B1${sd[i].toFixed(2)}`);
  });
  axesBox(g, x, d3.scaleLinear().domain([3.6, 0.4]).range([box.b, box.t]), f1Tick, [1, 2, 3],
    {noYLabels: true, noLeftTicks: true});
  const xl = g.append("text").attr("x", (box.l + box.r) / 2).attr("y", box.b + 35)
    .attr("text-anchor", "middle").attr("font-family", SANS).attr("font-size", 12).attr("fill", INK);
  xl.append("tspan").text("Average F");
  xl.append("tspan").attr("font-size", 8.5).attr("dy", 3).text("1");
  xl.append("tspan").attr("dy", -3).text(" score");
  if (opt.title) title(g, (box.l + box.r) / 2 - 4, box.t - 7, "Detection performance");
  return g;
}

// ---- captions ----
function caption(x, y, txt, width) {
  svg.append("text").attr("x", x).attr("y", y).attr("font-family", SERIF).attr("font-size", 20.5)
    .attr("fill", "#111").attr("textLength", width).attr("lengthAdjust", "spacingAndGlyphs").text(txt);
}

// ================= Row (a) =================
title(svg, 116, 19.5, "Poisson model parameters");
drawTable({l: 8, r: 228, top: 26.7, head: 53.3, rowH: 45, rhoX: 55, muX: 104.3, muL: 89.3, muR: 119.3,
  s1X: 167, s2X: 190.5, sL: 151.7, sR: 206.7, sigH: 179.5}, rhoA, muA, classA);
drawScatter({l: 292, r: 469, t: 27.5, b: 207}, featLimA, featTickA,
  [{pts: featA_normal, cls: "Normal"}, {pts: featA_novel, cls: "Novel"}],
  {yLabOff: 24, title: true, legend: true});
drawHist({l: 524, r: 702, t: 28, b: 207}, cardLimA, cardTickA,
  [{data: cardA_normal, cls: "Normal"}, {data: cardA_novel, cls: "Novel"}], {title: true, legend: true});
drawBars({l: 756.7, r: 934.7, t: 28, b: 207}, f1A, f1A_sd, {title: true});
caption(8, 278, "(a) Novelty well-separated from \u2018normal\u2019 data in feature, but overlap in cardi-", 920);
caption(8, 312, "nality.", 69);

// ================= Row (b) =================
drawTable({l: 8, r: 234, top: 361, head: 387.7, rowH: 46, rhoX: 55, muX: 107.5, muL: 90.7, muR: 124,
  s1X: 171.7, s2X: 196.7, sL: 155, sR: 211.7, sigH: 183.3, darkBottom: true}, rhoB, muB, classB);
drawScatter({l: 302, r: 477, t: 366, b: 542}, featLimB, featTickB,
  [{pts: featB_novel, cls: "Novel"}, {pts: featB_normal, cls: "Normal"}], {yLabOff: 27});
drawHist({l: 530, r: 703, t: 366, b: 543}, cardLimB, cardTickB,
  [{data: cardB_normal, cls: "Normal"}, {data: cardB_novel, cls: "Novel"}], {});
drawBars({l: 759.3, r: 934, t: 366, b: 542}, f1B, f1B_sd, {});
caption(45, 616, "(b) Novelty and \u2018normal\u2019 data partially overlap in feature and cardinality.", 857);

// ================= Row (c) =================
drawTable({l: 8, r: 234, top: 663, head: 689.5, rowH: 46, rhoX: 55, muX: 107.5, muL: 90.7, muR: 124,
  s1X: 171.7, s2X: 196.7, sL: 155, sR: 211.7, sigH: 183.3}, rhoC, muC, classC);
drawScatter({l: 302, r: 477, t: 669, b: 845}, featLimC, featTickC,
  [{pts: featC_normal, cls: "Normal"}, {pts: featC_novel, cls: "Novel"}], {yLabOff: 29});
drawHist({l: 530, r: 703, t: 669, b: 845}, cardLimC, cardTickC,
  [{data: cardC_normal, cls: "Normal"}, {data: cardC_novel, cls: "Novel"}], {});
drawBars({l: 759.3, r: 934, t: 669, b: 844}, f1C, f1C_sd, {});
caption(45, 917, "(c) Low-cardinality novelty that overlap with \u2018normal\u2019 data in feature.", 839);
</script>
</body>
</html>
